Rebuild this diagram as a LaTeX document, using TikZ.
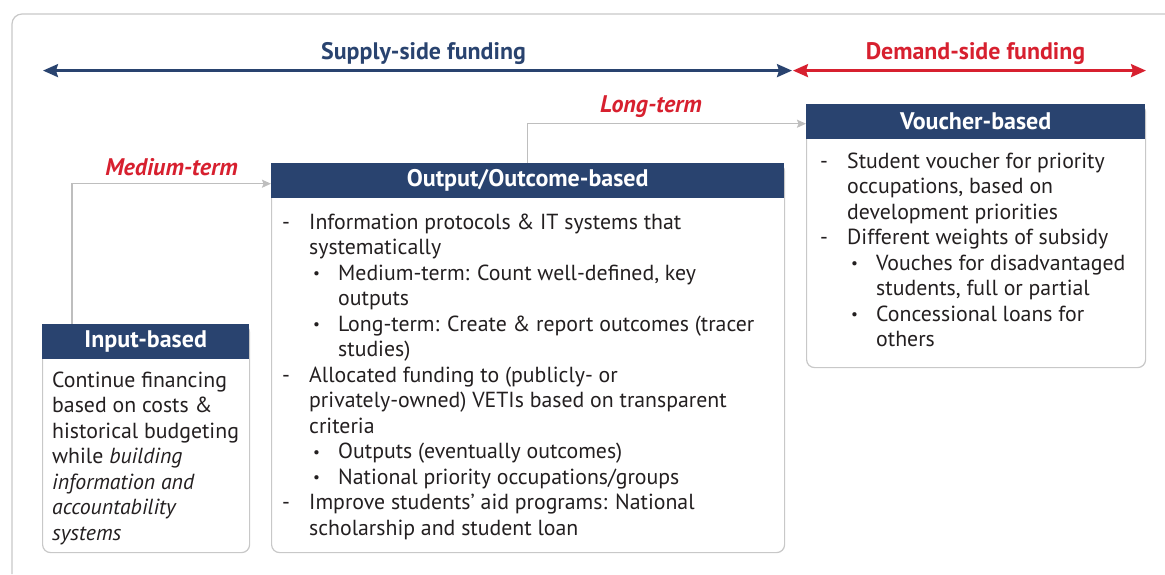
\documentclass[tikz,border=0pt]{standalone}
\usepackage{fontspec}
\setmainfont{PT Sans}
\usetikzlibrary{arrows.meta}
\definecolor{navy}{HTML}{29436F}
\definecolor{myred}{HTML}{D7202F}
\definecolor{framegrey}{HTML}{C8C8C8}
\definecolor{conngrey}{HTML}{BEBEBE}
\definecolor{txt}{HTML}{231F20}
\newcommand{\dsh}{\makebox[27pt][l]{-}}
\newcommand{\bul}{\makebox[25pt][l]{\raisebox{0.15ex}{\scalebox{0.7}{\textbullet}}}}
\begin{document}
\begin{tikzpicture}[x=1pt,y=-1pt,
  bodybox/.style={draw=framegrey, line width=1.2pt, rounded corners=8pt, fill=white, inner sep=0pt, anchor=north west},
  headbox/.style={fill=navy, text=white, font=\fontsize{24}{28}\selectfont\bfseries, inner sep=0pt, anchor=north west},
  bodytext/.style={text=txt, font=\fontsize{21.8}{25.5}\selectfont, align=left, inner sep=0pt, anchor=north west},
  conn/.style={draw=conngrey, line width=1.5pt, -{Stealth[length=9pt,width=8pt,inset=1.5pt]}},
  bigarrow/.style={line width=2.5pt, {Stealth[length=15pt,width=13pt,inset=2pt]}-{Stealth[length=15pt,width=13pt,inset=2pt]}},
  titletext/.style={font=\fontsize{23.9}{28}\selectfont\bfseries, anchor=base},
  termtext/.style={text=myred, font=\fontsize{24}{28}\selectfont\bfseries\itshape, anchor=base}
]
\useasboundingbox (0,0) rectangle (1165,574);
% frame
\draw[framegrey, line width=1.2pt, rounded corners=10pt] (12,574) -- (12,14) -- (1165,14);

% top arrows
\coordinate (sL) at (43,70.6);
\coordinate (sR) at (792,70.6);
\coordinate (dL) at (793,70.6);
\coordinate (dR) at (1146,70.6);
\draw[bigarrow, navy] (sL) -- (sR);
\draw[bigarrow, myred] (dL) -- (dR);
\node[titletext, text=navy] (supply) at (423.5,59) {Supply-side funding};
\node[titletext, text=myred] (demand) at (975.5,59) {Demand-side funding};

% Input box
\node[bodybox, minimum width=207, minimum height=228] (inbody) at (42,324) {};
\node[headbox, minimum width=207, minimum height=35] (inhead) at (42,324) {Input-based};
\node[bodytext] (intext) at (52,387-17.85) {\strut Continue financing\\ based on costs \&\\ historical budgeting\\ while \textit{building}\\ \textit{information and}\\ \textit{accountability}\\ \textit{systems}};

% Output box
\node[bodybox, minimum width=513, minimum height=389] (outbody) at (271,163) {};
\node[headbox, minimum width=513, minimum height=35] (outhead) at (271,163) {Output/Outcome-based};
\node[bodytext] (outtext) at (282,229-17.85) {\strut\dsh Information protocols \& IT systems that\\
\hspace*{27pt}systematically\\
\hspace*{31pt}\bul Medium-term: Count well-defined, key\\
\hspace*{56pt}outputs\\
\hspace*{31pt}\bul Long-term: Create \& report outcomes (tracer\\
\hspace*{56pt}studies)\\
\dsh Allocated funding to (publicly- or\\
\hspace*{27pt}privately-owned) VETIs based on transparent\\
\hspace*{27pt}criteria\\
\hspace*{31pt}\bul Outputs (eventually outcomes)\\
\hspace*{31pt}\bul National priority occupations/groups\\
\dsh Improve students’ aid programs: National\\
\hspace*{27pt}scholarship and student loan};

% Voucher box
\node[bodybox, minimum width=339, minimum height=263] (voubody) at (806,104) {};
\node[headbox, minimum width=339, minimum height=35] (vouhead) at (806,104) {Voucher-based};
\node[bodytext] (voutext) at (820,168-17.85) {\strut\dsh Student voucher for priority\\
\hspace*{27pt}occupations, based on\\
\hspace*{27pt}development priorities\\
\dsh Different weights of subsidy\\
\hspace*{31pt}\bul Vouches for disadvantaged\\
\hspace*{56pt}students, full or partial\\
\hspace*{31pt}\bul Concessional loans for\\
\hspace*{56pt}others};

% connectors
\draw[conn] ([xshift=30pt]inhead.north west) |- ([yshift=-3pt]outhead.west);
\draw[conn] (outhead.north) |- ([yshift=-2pt]vouhead.west);
\node[termtext] (medium) at (171.5,175) {Medium-term};
\node[termtext] (long) at (651,112) {Long-term};
\end{tikzpicture}
\end{document}
